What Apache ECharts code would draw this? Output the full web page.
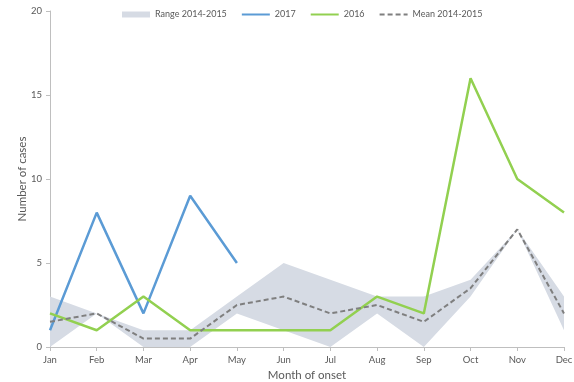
<!DOCTYPE html>
<html><head><meta charset="utf-8">
<script src="https://cdn.jsdelivr.net/npm/echarts@6/dist/echarts.min.js"></script>
<style>html,body{margin:0;padding:0;background:#fff}#c{width:574px;height:382px}</style>
</head><body><div id="c"></div>
<script>
const months = ['Jan','Feb','Mar','Apr','May','Jun','Jul','Aug','Sep','Oct','Nov','Dec'];
const rangeMin = [0, 2, 0, 0, 2, 1, 0, 2, 0, 3, 7, 1];
const rangeMax = [3, 2, 1, 1, 3, 5, 4, 3, 3, 4, 7, 3];
const mean1415 = [1.5, 2, 0.5, 0.5, 2.5, 3, 2, 2.5, 1.5, 3.5, 7, 2];
const y2017 = [1, 8, 2, 9, 5];
const y2016 = [2, 1, 3, 1, 1, 1, 1, 3, 2, 16, 10, 8];
const yTicks = [0, 5, 10, 15, 20];

const bandDiff = rangeMax.map((v, i) => v - rangeMin[i]);
const font = 'Lato';
const chart = echarts.init(document.getElementById('c'));
chart.setOption({
  animation: false,
  textStyle: {fontFamily: font},
  grid: {left: 50, right: 10, top: 11, bottom: 35, containLabel: false, outerBoundsMode: 'none'},
  legend: {
    top: 5, left: 117, itemWidth: 28, itemHeight: 6, itemGap: 14,
    textStyle: {color: '#595959', fontSize: 9, fontFamily: font},
    itemStyle: {opacity: 0},
    data: [{name: 'Range 2014-2015', icon: 'rect', itemStyle: {opacity: 1, color: '#d6dbe4'}},
           '2017', '2016', 'Mean 2014-2015']
  },
  xAxis: {
    type: 'category', data: months, boundaryGap: false,
    name: 'Month of onset', nameLocation: 'middle', nameGap: 22, nameMoveOverlap: false,
    nameTextStyle: {color: '#595959', fontSize: 11.5},
    axisLine: {lineStyle: {color: '#bfbfbf'}},
    axisTick: {show: true, alignWithLabel: true, length: 4, lineStyle: {color: '#bfbfbf'}},
    axisLabel: {color: '#595959', fontSize: 9.5, margin: 8}
  },
  yAxis: {
    type: 'value', min: yTicks[0], max: yTicks[yTicks.length - 1], interval: 5,
    name: 'Number of cases', nameLocation: 'middle', nameGap: 22, nameMoveOverlap: false,
    nameTextStyle: {color: '#595959', fontSize: 11.5},
    axisLine: {show: true, lineStyle: {color: '#bfbfbf'}},
    axisTick: {show: true, length: 4, lineStyle: {color: '#bfbfbf'}},
    splitLine: {show: false},
    axisLabel: {color: '#595959', fontSize: 9.5, margin: 8}
  },
  series: [
    {name: 'rangeLow', type: 'line', stack: 'band', data: rangeMin, symbol: 'none',
     lineStyle: {opacity: 0}, silent: true},
    {name: 'Range 2014-2015', type: 'line', stack: 'band', data: bandDiff, symbol: 'none',
     lineStyle: {opacity: 0}, areaStyle: {color: '#d6dbe4', opacity: 1},
     itemStyle: {color: '#d6dbe4'}},
    {name: '2017', type: 'line', data: y2017, symbol: 'none',
     lineStyle: {color: '#5b9bd5', width: 2.5}, itemStyle: {color: '#5b9bd5'}},
    {name: '2016', type: 'line', data: y2016, symbol: 'none',
     lineStyle: {color: '#92d050', width: 2.5}, itemStyle: {color: '#92d050'}},
    {name: 'Mean 2014-2015', type: 'line', data: mean1415, symbol: 'none',
     lineStyle: {color: '#7f7f7f', width: 2, type: [5, 3]}, itemStyle: {color: '#7f7f7f'}}
  ]
});
</script></body></html>
